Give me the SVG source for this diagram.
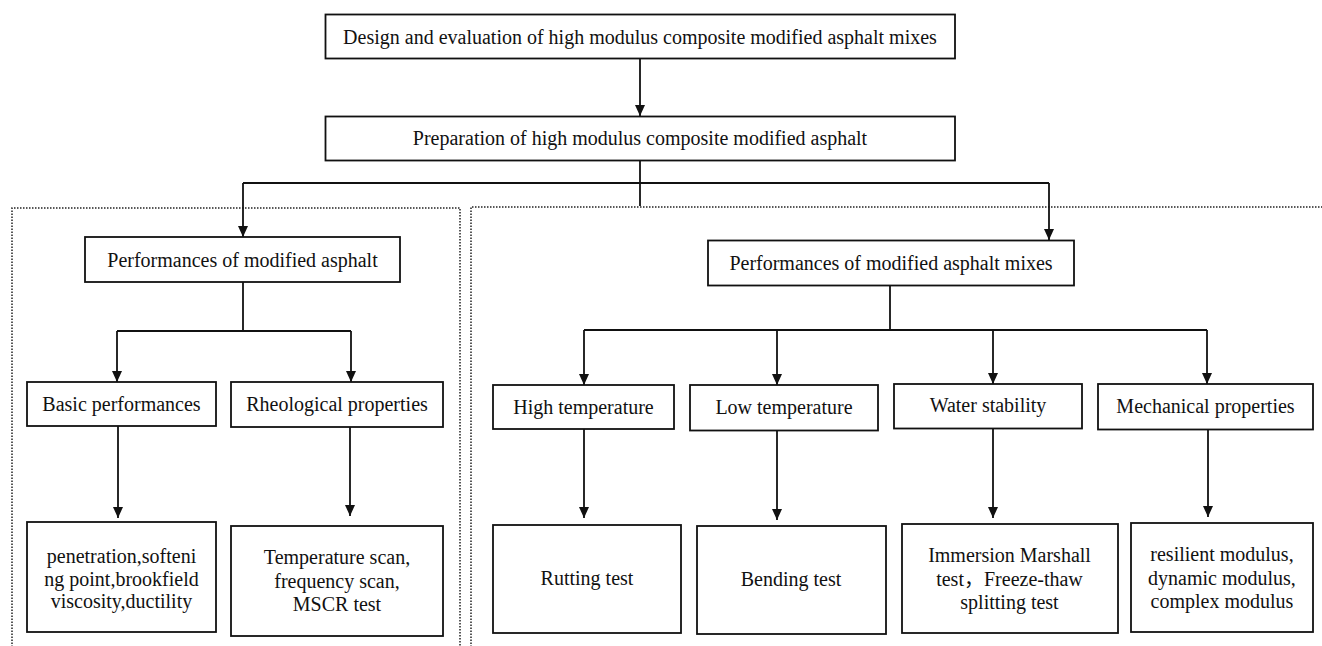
<svg xmlns="http://www.w3.org/2000/svg" width="1322" height="646" viewBox="0 0 1322 646">
<style>
.box{fill:#fff;stroke:#111;stroke-width:1.8}
.t{font-family:"Liberation Serif",serif;font-size:20px;fill:#111;text-anchor:middle}
.cjk{font-family:"Liberation Serif","Noto Sans CJK SC",serif}
.ln{fill:none;stroke:#111;stroke-width:1.8}
.ar{fill:none;stroke:#111;stroke-width:1.8;marker-end:url(#ah)}
.dot{fill:none;stroke:#222;stroke-width:1.5;stroke-dasharray:1.5 1.5}
</style>
<defs>
<marker id="ah" markerUnits="userSpaceOnUse" markerWidth="12" markerHeight="11" refX="11" refY="5" orient="auto">
<path d="M0,0 L11,5 L0,10 z" fill="#111"/>
</marker>
</defs>
<rect width="1322" height="646" fill="#fff"/>
<g id="groups">
<path class="dot" d="M12,650 V208 H460 V650"/>
<path class="dot" d="M471,650 V207 H1326"/>
</g>
<g id="connectors">
<line class="ar" x1="640" y1="59" x2="640" y2="116"/>
<line class="ln" x1="640" y1="161" x2="640" y2="206"/>
<line class="ln" x1="243" y1="183" x2="1049" y2="183"/>
<line class="ar" x1="243" y1="183" x2="243" y2="237"/>
<line class="ar" x1="1049" y1="183" x2="1049" y2="240"/>
<line class="ln" x1="243" y1="282" x2="243" y2="331"/>
<line class="ln" x1="117" y1="331" x2="351" y2="331"/>
<line class="ar" x1="117" y1="331" x2="117" y2="382"/>
<line class="ar" x1="351" y1="331" x2="351" y2="382"/>
<line class="ar" x1="118" y1="426" x2="118" y2="518"/>
<line class="ar" x1="350" y1="427" x2="350" y2="516"/>
<line class="ln" x1="890" y1="286" x2="890" y2="330"/>
<line class="ln" x1="584" y1="330" x2="1207" y2="330"/>
<line class="ar" x1="584" y1="330" x2="584" y2="385"/>
<line class="ar" x1="777" y1="330" x2="777" y2="385"/>
<line class="ar" x1="993" y1="330" x2="993" y2="384"/>
<line class="ar" x1="1207" y1="330" x2="1207" y2="384"/>
<line class="ar" x1="584" y1="429" x2="584" y2="518"/>
<line class="ar" x1="777" y1="431" x2="777" y2="520"/>
<line class="ar" x1="993" y1="429" x2="993" y2="518"/>
<line class="ar" x1="1208" y1="430" x2="1208" y2="517"/>
</g>
<g id="n-design">
<rect class="box" x="325.5" y="14.5" width="629.5" height="44"/>
<text class="t" x="640" y="43.5">Design and evaluation of high modulus composite modified asphalt mixes</text>
</g>
<g id="n-prep">
<rect class="box" x="325.5" y="116.5" width="629.5" height="44"/>
<text class="t" x="640" y="145">Preparation of high modulus composite modified asphalt</text>
</g>
<g id="n-asphalt">
<rect class="box" x="85" y="237" width="315" height="45"/>
<text class="t" x="242.5" y="266.5">Performances of modified asphalt</text>
</g>
<g id="n-mixes">
<rect class="box" x="708" y="240.5" width="366" height="45"/>
<text class="t" x="891" y="270">Performances of modified asphalt mixes</text>
</g>
<g id="n-basic">
<rect class="box" x="27" y="382" width="189" height="44"/>
<text class="t" x="121.5" y="411">Basic performances</text>
</g>
<g id="n-rheo">
<rect class="box" x="231" y="382" width="212" height="45"/>
<text class="t" x="337" y="411">Rheological properties</text>
</g>
<g id="n-high">
<rect class="box" x="493" y="385" width="181" height="44"/>
<text class="t" x="583.5" y="414">High temperature</text>
</g>
<g id="n-low">
<rect class="box" x="690" y="385" width="188" height="45.5"/>
<text class="t" x="784" y="414">Low temperature</text>
</g>
<g id="n-water">
<rect class="box" x="894" y="384" width="188" height="44.5"/>
<text class="t" x="988" y="412">Water stability</text>
</g>
<g id="n-mech">
<rect class="box" x="1098" y="384" width="215" height="45.5"/>
<text class="t" x="1205.5" y="413">Mechanical properties</text>
</g>
<g id="n-basic-tests">
<rect class="box" x="27" y="522" width="189" height="110"/>
<text class="t" x="121.5" y="563">penetration,softeni</text>
<text class="t" x="121.5" y="585.5">ng point,brookfield</text>
<text class="t" x="121.5" y="608">viscosity,ductility</text>
</g>
<g id="n-rheo-tests">
<rect class="box" x="231" y="526" width="212" height="110"/>
<text class="t" x="337" y="564">Temperature scan,</text>
<text class="t" x="337" y="587.5">frequency scan,</text>
<text class="t" x="337" y="611">MSCR test</text>
</g>
<g id="n-rutting">
<rect class="box" x="493" y="525" width="188" height="108"/>
<text class="t" x="587" y="585">Rutting test</text>
</g>
<g id="n-bending">
<rect class="box" x="697" y="526" width="189" height="108"/>
<text class="t" x="791" y="586">Bending test</text>
</g>
<g id="n-immersion">
<rect class="box" x="902" y="524" width="216" height="109"/>
<text class="t" x="1009.5" y="562">Immersion Marshall</text>
<text class="t" x="1009.5" y="585.5">test<tspan class="cjk">，</tspan>Freeze-thaw</text>
<text class="t" x="1009.5" y="609">splitting test</text>
</g>
<g id="n-modulus">
<rect class="box" x="1131" y="523" width="182" height="109"/>
<text class="t" x="1222" y="561">resilient modulus,</text>
<text class="t" x="1222" y="584.5">dynamic modulus,</text>
<text class="t" x="1222" y="608">complex modulus</text>
</g>
</svg>
